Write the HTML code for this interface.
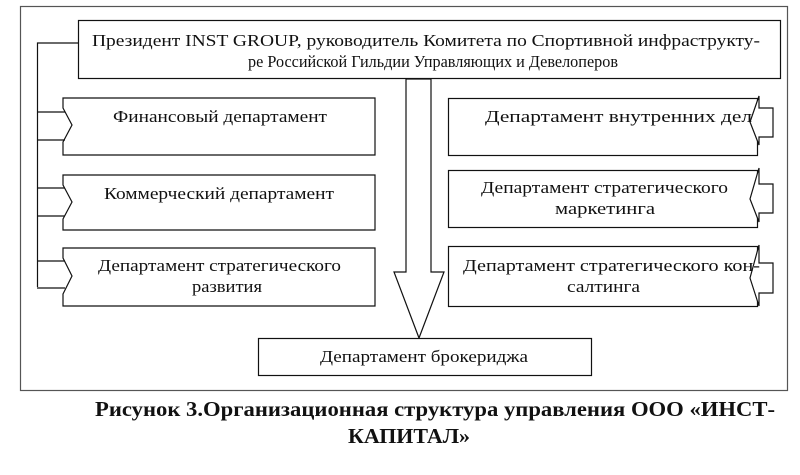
<!DOCTYPE html>
<html><head><meta charset="utf-8"><style>
body{margin:0;background:#fff;width:800px;height:470px;overflow:hidden}
svg text{font-family:"Liberation Serif","Times New Roman",serif;font-size:17px;fill:#111}
</style></head><body>
<svg width="800" height="470" viewBox="0 0 800 470" xmlns="http://www.w3.org/2000/svg" font-family="Liberation Serif, serif">
<rect x="20.5" y="6.5" width="767" height="384" fill="none" stroke="#555" stroke-width="1.2"/>
<g fill="none" stroke="#111" stroke-width="1.2">
<rect x="78.5" y="20.5" width="702" height="58"/>
<polyline points="78,43 37.5,43 37.5,287"/>
<polygon points="63,98 375,98 375,155 63,155 63,142 72,125 63,108" fill="#fff"/>
<polygon points="63,175 375,175 375,230 63,230 63,219 72,202 63,185" fill="#fff"/>
<polygon points="63,248 375,248 375,306 63,306 63,294 72,276 63,258" fill="#fff"/>
<polyline points="37,112 65,112"/><polyline points="37,140 65,140"/>
<polyline points="37,188 65,188"/><polyline points="37,216 65,216"/>
<polyline points="37,261 65,261"/><polyline points="37,288 65,288"/>
<rect x="448.5" y="98.5" width="309" height="57" fill="#fff"/>
<rect x="448.5" y="170.5" width="309" height="57" fill="#fff"/>
<rect x="448.5" y="246.5" width="309" height="60" fill="#fff"/>
<polygon points="759,96 759,108 773,108 773,137 759,137 759,145 750,122" fill="#fff"/>
<polygon points="759,168 759,184 773,184 773,213 759,213 759,222 750,199" fill="#fff"/>
<polygon points="759,245 759,263 773,263 773,293 759,293 759,306 750,278" fill="#fff"/>
<polygon points="406,79 431,79 431,272 444,272 419,338 394,272 406,272" fill="#fff"/>
<rect x="258.5" y="338.5" width="333" height="37" fill="#fff"/>
</g>
<g lengthAdjust="spacingAndGlyphs">
<text x="92" y="46" textLength="668" lengthAdjust="spacingAndGlyphs">Президент INST GROUP, руководитель Комитета по Спортивной инфраструкту-</text>
<text x="248" y="67" textLength="370" lengthAdjust="spacingAndGlyphs">ре Российской Гильдии Управляющих и Девелоперов</text>
<text x="113" y="122" textLength="214" lengthAdjust="spacingAndGlyphs">Финансовый департамент</text>
<text x="104" y="199" textLength="230" lengthAdjust="spacingAndGlyphs">Коммерческий департамент</text>
<text x="98" y="271" textLength="243" lengthAdjust="spacingAndGlyphs">Департамент стратегического</text>
<text x="192" y="292" textLength="70" lengthAdjust="spacingAndGlyphs">развития</text>
<text x="485" y="122" textLength="267" lengthAdjust="spacingAndGlyphs">Департамент внутренних дел</text>
<text x="481" y="193" textLength="247" lengthAdjust="spacingAndGlyphs">Департамент стратегического</text>
<text x="555" y="214" textLength="100" lengthAdjust="spacingAndGlyphs">маркетинга</text>
<text x="463" y="271" textLength="297" lengthAdjust="spacingAndGlyphs">Департамент стратегического кон-</text>
<text x="567" y="292" textLength="73" lengthAdjust="spacingAndGlyphs">салтинга</text>
<text x="320" y="362" textLength="208" lengthAdjust="spacingAndGlyphs">Департамент брокериджа</text>
<text x="95" y="416" textLength="680" lengthAdjust="spacingAndGlyphs" style="font-weight:bold;font-size:21px">Рисунок 3.Организационная структура управления ООО «ИНСТ-</text>
<text x="348" y="443" textLength="122" lengthAdjust="spacingAndGlyphs" style="font-weight:bold;font-size:21px">КАПИТАЛ»</text>
</g>
</svg>
</body></html>
